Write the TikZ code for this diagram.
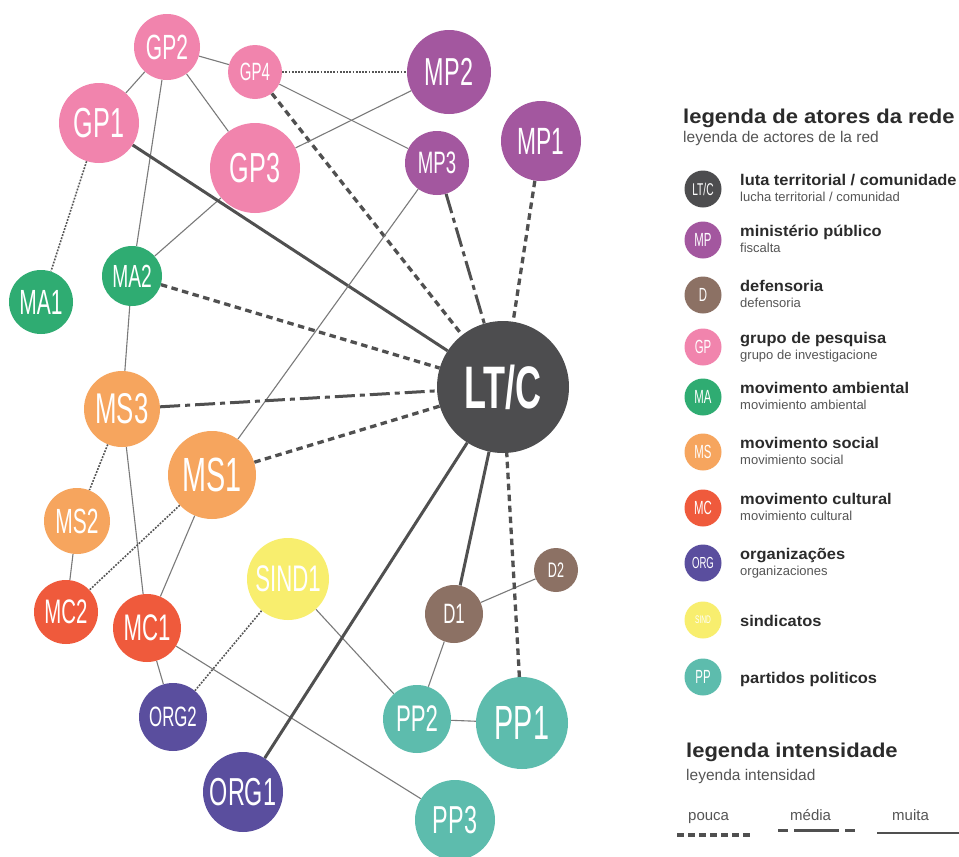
\documentclass[tikz,border=0pt]{standalone}
\usepackage{fontspec}
\setmainfont{Liberation Sans}
\newfontfamily\nodefont[FakeStretch=0.6]{Liberation Sans}
\newfontfamily\headfont[FakeStretch=1.1]{Liberation Sans}
\newfontfamily\itemfont[FakeStretch=1.06]{Liberation Sans}
\usetikzlibrary{backgrounds}
\newcommand{\nfs}[1]{\fontsize{#1}{#1}\selectfont}
\definecolor{ltc}{HTML}{4D4D4F}
\definecolor{mp}{HTML}{A3579F}
\definecolor{dd}{HTML}{8C7164}
\definecolor{gp}{HTML}{F184AD}
\definecolor{ma}{HTML}{2FAC72}
\definecolor{ms}{HTML}{F6A55E}
\definecolor{mc}{HTML}{EF5A3C}
\definecolor{org}{HTML}{5A4E9E}
\definecolor{sind}{HTML}{F8EE6E}
\definecolor{pp}{HTML}{5DBCAD}
\definecolor{thinc}{HTML}{7A7A7A}
\definecolor{dotc}{HTML}{555555}
\definecolor{thickc}{HTML}{505050}
\definecolor{titc}{HTML}{2B2B2B}
\definecolor{subc}{HTML}{555555}
\tikzset{
  nd/.style={circle,inner sep=0pt,text=white},
  thin line/.style={draw=thinc,line width=1.1pt},
  dots/.style={draw=dotc,line width=1.6pt,dash pattern=on 1.8pt off 1.4pt},
  pouca/.style={draw=thickc,line width=3.3pt,dash pattern=on 6.5pt off 4.5pt},
  media/.style={draw=thickc,line width=3pt,dash pattern=on 20pt off 5pt on 5pt off 5pt},
  muita/.style={draw=thickc,line width=3pt},
  lgc/.style={nd,minimum size=37pt},
  ittl/.style={anchor=base west,inner sep=0pt,text=titc,font=\itemfont\bfseries\nfs{15.5}},
  isub/.style={anchor=base west,inner sep=0pt,text=subc,font=\nfs{13}},
  htxt/.style={anchor=base west,inner sep=0pt,text=titc,font=\headfont\bfseries\nfs{20}},
  hsub/.style={anchor=base west,inner sep=0pt,text=subc,font=\nfs{15.5}},
  itxt/.style={anchor=base west,inner sep=0pt,text=subc,font=\nfs{15}}
}
\begin{document}
\begin{tikzpicture}[x=1pt,y=-1pt]
\useasboundingbox (0,0) rectangle (959,857);
% network nodes
\node[nd,fill=gp,minimum size=66pt,font=\nodefont\nfs{35}] (GP2) at (167,47) {GP2};
\node[nd,fill=gp,minimum size=54pt,font=\nodefont\nfs{25}] (GP4) at (255,72) {GP4};
\node[nd,fill=mp,minimum size=84pt,font=\nodefont\nfs{39}] (MP2) at (449,72) {MP2};
\node[nd,fill=gp,minimum size=80pt,font=\nodefont\nfs{42}] (GP1) at (99,123) {GP1};
\node[nd,fill=gp,minimum size=90pt,font=\nodefont\nfs{42}] (GP3) at (255,168) {GP3};
\node[nd,fill=mp,minimum size=64pt,font=\nodefont\nfs{31}] (MP3) at (437,163) {MP3};
\node[nd,fill=mp,minimum size=80pt,font=\nodefont\nfs{38}] (MP1) at (541,141) {MP1};
\node[nd,fill=ma,minimum size=60pt,font=\nodefont\nfs{32}] (MA2) at (132,276) {MA2};
\node[nd,fill=ma,minimum size=64pt,font=\nodefont\nfs{35}] (MA1) at (41,302) {MA1};
\node[nd,fill=ltc,minimum size=132pt,font=\nodefont\bfseries\nfs{60}] (LTC) at (503,387) {LT/C};
\node[nd,fill=ms,minimum size=76pt,font=\nodefont\nfs{43}] (MS3) at (122,409) {MS3};
\node[nd,fill=ms,minimum size=88pt,font=\nodefont\nfs{48}] (MS1) at (212,475) {MS1};
\node[nd,fill=ms,minimum size=66pt,font=\nodefont\nfs{35}] (MS2) at (77,521) {MS2};
\node[nd,fill=sind,minimum size=82pt,font=\nodefont\nfs{37}] (SIND1) at (288,579) {SIND1};
\node[nd,fill=mc,minimum size=64pt,font=\nodefont\nfs{34}] (MC2) at (66,612) {MC2};
\node[nd,fill=mc,minimum size=68pt,font=\nodefont\nfs{37}] (MC1) at (147,628) {MC1};
\node[nd,fill=dd,minimum size=44pt,font=\nodefont\nfs{21}] (D2) at (556,570) {D2};
\node[nd,fill=dd,minimum size=58pt,font=\nodefont\nfs{28}] (D1) at (454,614) {D1};
\node[nd,fill=org,minimum size=68pt,font=\nodefont\nfs{28}] (ORG2) at (173,717) {ORG2};
\node[nd,fill=pp,minimum size=68pt,font=\nodefont\nfs{37}] (PP2) at (417,719) {PP2};
\node[nd,fill=pp,minimum size=92pt,font=\nodefont\nfs{48}] (PP1) at (522,723) {PP1};
\node[nd,fill=org,minimum size=80pt,font=\nodefont\nfs{39}] (ORG1) at (243,792) {ORG1};
\node[nd,fill=pp,minimum size=80pt,font=\nodefont\nfs{39}] (PP3) at (455,820) {PP3};
% connectors
\begin{scope}[on background layer]
\fill[white] (0,0) rectangle (959,857);
\draw[thin line] (GP1) -- (GP2);
\draw[thin line] (GP2) -- (GP4);
\draw[thin line] (GP2) -- (GP3);
\draw[thin line] (GP2) -- (MA2);
\draw[dots] (GP4) -- (MP2);
\draw[thin line] (GP4) -- (MP3);
\draw[pouca] (GP4) -- (LTC);
\draw[thin line] (GP3) -- (MP2);
\draw[thin line] (GP3) -- (MA2);
\draw[dots] (GP1) -- (MA1);
\draw[muita] (GP1) -- (LTC);
\draw[thin line] (MP3) -- (MS1);
\draw[media] (MP3) -- (LTC);
\draw[pouca] (MP1) -- (LTC);
\draw[pouca] (MA2) -- (LTC);
\draw[thin line] (MA2) -- (MS3);
\draw[media] (MS3) -- (LTC);
\draw[dots] (MS3) -- (MS2);
\draw[thin line] (MS3) -- (MC1);
\draw[pouca] (MS1) -- (LTC);
\draw[dots] (MS1) -- (MC2);
\draw[thin line] (MS1) -- (MC1);
\draw[thin line] (MS2) -- (MC2);
\draw[thin line] (MC1) -- (ORG2);
\draw[thin line] (MC1) -- (PP3);
\draw[dots] (SIND1) -- (ORG2);
\draw[thin line] (SIND1) -- (PP2);
\draw[muita] (ORG1) -- (LTC);
\draw[muita] (D1) -- (LTC);
\draw[thin line] (D1) -- (D2);
\draw[thin line] (D1) -- (PP2);
\draw[pouca] (PP1) -- (LTC);
\draw[thin line] (PP2) -- (PP1);
\end{scope}
% legend of actors
\node[htxt] (lgt) at (683,123) {legenda de atores da rede};
\node[hsub] (lgs) at (683,142) {leyenda de actores de la red};
\node[lgc,fill=ltc,font=\nodefont\nfs{17}] (L1) at (703,189) {LT/C};
\node[ittl] (L1a) at (740,185) {luta territorial / comunidade};
\node[isub] (L1b) at (740,201) {lucha territorial / comunidad};
\node[lgc,fill=mp,font=\nodefont\nfs{19}] (L2) at (703,240) {MP};
\node[ittl] (L2a) at (740,236) {ministério público};
\node[isub] (L2b) at (740,252) {fiscalta};
\node[lgc,fill=dd,font=\nodefont\nfs{19}] (L3) at (703,295) {D};
\node[ittl] (L3a) at (740,291) {defensoria};
\node[isub] (L3b) at (740,307) {defensoria};
\node[lgc,fill=gp,font=\nodefont\nfs{19}] (L4) at (703,347) {GP};
\node[ittl] (L4a) at (740,343) {grupo de pesquisa};
\node[isub] (L4b) at (740,359) {grupo de investigacione};
\node[lgc,fill=ma,font=\nodefont\nfs{19}] (L5) at (703,397) {MA};
\node[ittl] (L5a) at (740,393) {movimento ambiental};
\node[isub] (L5b) at (740,409) {movimiento ambiental};
\node[lgc,fill=ms,font=\nodefont\nfs{19}] (L6) at (703,452) {MS};
\node[ittl] (L6a) at (740,448) {movimento social};
\node[isub] (L6b) at (740,464) {movimiento social};
\node[lgc,fill=mc,font=\nodefont\nfs{19}] (L7) at (703,508) {MC};
\node[ittl] (L7a) at (740,504) {movimento cultural};
\node[isub] (L7b) at (740,520) {movimiento cultural};
\node[lgc,fill=org,font=\nodefont\nfs{16}] (L8) at (703,563) {ORG};
\node[ittl] (L8a) at (740,559) {organizações};
\node[isub] (L8b) at (740,575) {organizaciones};
\node[lgc,fill=sind,font=\nodefont\nfs{11}] (L9) at (703,620) {SIND};
\node[ittl] (L9a) at (740,626) {sindicatos};
\node[lgc,fill=pp,font=\nodefont\nfs{19}] (L10) at (703,677) {PP};
\node[ittl] (L10a) at (740,683) {partidos politicos};
% intensity legend
\node[htxt] (igt) at (686,757) {legenda intensidade};
\node[hsub] (igs) at (686,780) {leyenda intensidad};
\node[itxt] (ip) at (688,820) {pouca};
\node[itxt] (im) at (790,820) {média};
\node[itxt] (iu) at (892,820) {muita};
\coordinate (p1) at (677,835); \coordinate (p2) at (752,835);
\coordinate (m1) at (778,830); \coordinate (m2) at (855,830);
\coordinate (u1) at (877,833); \coordinate (u2) at (959,833);
\draw[pouca] (p1) -- (p2);
\draw[draw=thickc,line width=3pt,dash pattern=on 10pt off 6pt on 45pt off 6pt on 10pt off 20pt] (m1) -- (m2);
\draw[muita,line width=2.2pt] (u1) -- (u2);
\end{tikzpicture}
\end{document}
